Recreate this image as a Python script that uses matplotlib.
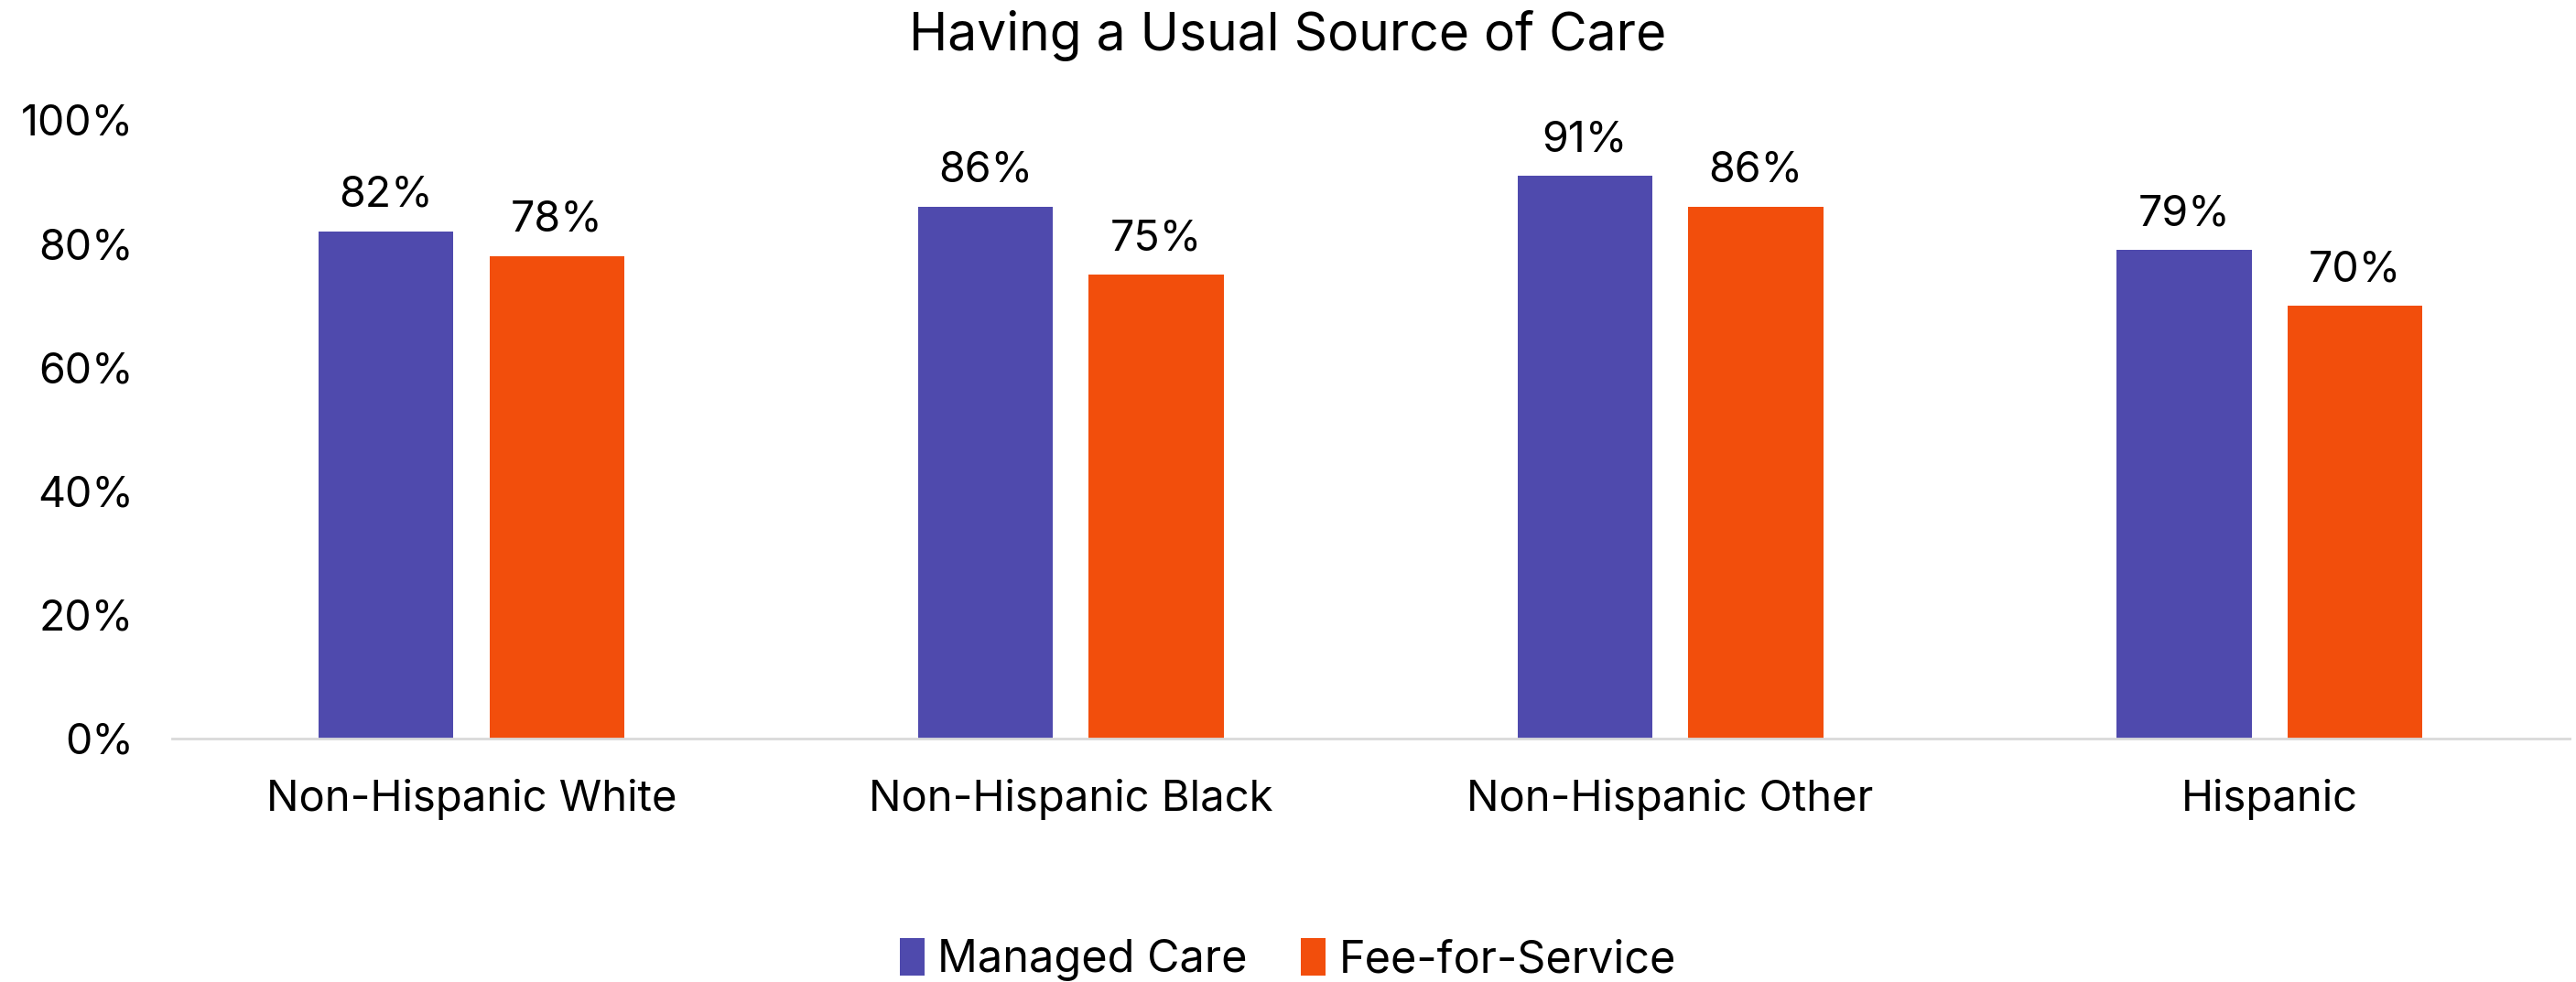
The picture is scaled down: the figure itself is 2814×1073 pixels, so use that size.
import numpy as np
import matplotlib.pyplot as plt
from matplotlib.ticker import PercentFormatter

plt.rcParams['font.family'] = ['Inter', 'DejaVu Sans']

categories = ['Non-Hispanic White', 'Non-Hispanic Black', 'Non-Hispanic Other', 'Hispanic']
managed_care = [82, 86, 91, 79]
fee_for_service = [78, 75, 86, 70]
series_names = ['Managed Care', 'Fee-for-Service']
colors = ['#4F4AAD', '#F24E0C']

fig = plt.figure(figsize=(28.14, 10.73), dpi=100)
ax = fig.add_axes([0.0667, 0.248, 0.9307, 0.630])

x = np.arange(len(categories))
w = 0.225
off = w / 2 + 0.03
for vals, name, c, d in zip([managed_care, fee_for_service], series_names, colors, [-1, 1]):
    bars = ax.bar(x + d * off, vals, w, color=c, label=name)
    for b, v in zip(bars, vals):
        ax.annotate(f'{v}%', (b.get_x() + b.get_width() / 2, v), xytext=(0, 12),
                    textcoords='offset points', ha='center', va='bottom', fontsize=33.5)

ax.set_xlim(-0.5, len(categories) - 0.5)
ax.set_ylim(0, 100)
ax.set_yticks(np.arange(0, 101, 20))
ax.yaxis.set_major_formatter(PercentFormatter(decimals=0))
ax.set_xticks(x)
ax.set_xticklabels(categories)
ax.tick_params(axis='both', length=0, labelsize=33.5)
ax.tick_params(axis='x', labelsize=34, pad=32)
ax.tick_params(axis='y', pad=30)
for s in ['top', 'right', 'left']:
    ax.spines[s].set_visible(False)
ax.spines['bottom'].set_color('#D9D9D9')
ax.spines['bottom'].set_linewidth(2)

fig.suptitle('Having a Usual Source of Care', fontsize=41, y=0.99, va='top')
fig.legend(loc='lower center', bbox_to_anchor=(0.5, -0.04), ncol=2, frameon=False,
           fontsize=35, handlelength=0.55, handleheight=0.9, columnspacing=1.2, handletextpad=0.3)

fig.savefig('out.png', dpi=100)
